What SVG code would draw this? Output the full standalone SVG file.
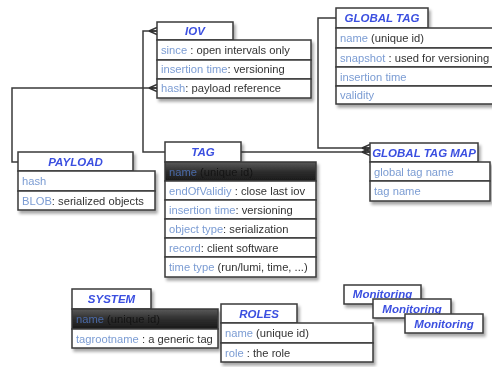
<svg xmlns="http://www.w3.org/2000/svg" width="492" height="367" viewBox="0 0 492 367">
<defs>
<filter id="sh" x="-10%" y="-10%" width="130%" height="150%">
<feDropShadow dx="2" dy="3" stdDeviation="1.6" flood-color="#000" flood-opacity="0.35"/>
</filter>
<linearGradient id="dark" x1="0" y1="0" x2="0" y2="1">
<stop offset="0" stop-color="#5a5a5a"/>
<stop offset="0.5" stop-color="#2e2e2e"/>
<stop offset="1" stop-color="#1a1a1a"/>
</linearGradient>
<marker id="crow" markerUnits="userSpaceOnUse" viewBox="0 0 10 10" refX="10" refY="5" markerWidth="10" markerHeight="10" orient="auto">
<path d="M2,5 L10,1.5 M2,5 L10,5 M2,5 L10,8.5" fill="none" stroke="#333" stroke-width="1.5"/>
<path d="M2,5 L6,3.3 L6,6.7 Z" fill="#333"/>
</marker>
</defs>
<style>
.box{fill:#fff;stroke:#3a3a3a;stroke-width:1.5}
.drk{fill:url(#dark);stroke:#3a3a3a;stroke-width:1.5}
.hd{font-family:"Liberation Sans",Arial,sans-serif;font-size:11.5px;font-weight:bold;font-style:italic;fill:#3b4fe0;text-anchor:middle}
.tx{font-family:"Liberation Sans",Arial,sans-serif;font-size:11.2px;fill:#333}
.lb{fill:#7b9cd3}
.dl{fill:#4a6aa8}
.dv{fill:#151515}
.con{fill:none;stroke:#3a3a3a;stroke-width:1.5}
</style>
<rect width="492" height="367" fill="#fff"/>

<g id="connectors">
<path class="con" d="M165,152 H143 V31 H157" marker-end="url(#crow)"/>
<path class="con" d="M18,162 H12 V88 H157" marker-end="url(#crow)"/>
<path class="con" d="M336,18 H318 V148 H370" marker-end="url(#crow)"/>
<path class="con" d="M241,152 H370" marker-end="url(#crow)"/>
</g>

<g id="iov" filter="url(#sh)">
<rect class="box" x="157" y="22" width="76" height="18"/>
<rect class="box" x="157" y="40" width="154" height="20"/>
<rect class="box" x="157" y="60" width="154" height="19"/>
<rect class="box" x="157" y="79" width="154" height="19"/>
<text class="hd" x="195" y="35">IOV</text>
<text class="tx" x="161" y="54"><tspan class="lb">since</tspan> : open intervals only</text>
<text class="tx" x="161" y="73"><tspan class="lb">insertion time</tspan>: versioning</text>
<text class="tx" x="161" y="92"><tspan class="lb">hash</tspan>: payload reference</text>
</g>

<g id="global-tag" filter="url(#sh)">
<rect class="box" x="336" y="8" width="92" height="20"/>
<rect class="box" x="336" y="28" width="165" height="20"/>
<rect class="box" x="336" y="48" width="165" height="19"/>
<rect class="box" x="336" y="67" width="165" height="19"/>
<rect class="box" x="336" y="86" width="165" height="18"/>
<text class="hd" x="382" y="22">GLOBAL TAG</text>
<text class="tx" x="340" y="42"><tspan class="lb">name</tspan> (unique id)</text>
<text class="tx" x="340" y="62"><tspan class="lb">snapshot</tspan> : used for versioning</text>
<text class="tx lb" x="340" y="81">insertion time</text>
<text class="tx lb" x="340" y="99">validity</text>
</g>

<g id="global-tag-map" filter="url(#sh)">
<rect class="box" x="370" y="143" width="108" height="19"/>
<rect class="box" x="370" y="162" width="120" height="19"/>
<rect class="box" x="370" y="181" width="120" height="20"/>
<text class="hd" x="424" y="157">GLOBAL TAG MAP</text>
<text class="tx lb" x="374" y="176">global tag name</text>
<text class="tx lb" x="374" y="195">tag name</text>
</g>

<g id="payload" filter="url(#sh)">
<rect class="box" x="18" y="152" width="115" height="19"/>
<rect class="box" x="18" y="171" width="137" height="20"/>
<rect class="box" x="18" y="191" width="137" height="19"/>
<text class="hd" x="75.5" y="166">PAYLOAD</text>
<text class="tx lb" x="22" y="185">hash</text>
<text class="tx" x="22" y="205"><tspan class="lb">BLOB</tspan>: serialized objects</text>
</g>

<g id="tag" filter="url(#sh)">
<rect class="box" x="165" y="142" width="76" height="20"/>
<rect class="drk" x="165" y="162" width="151" height="19"/>
<rect class="box" x="165" y="181" width="151" height="19"/>
<rect class="box" x="165" y="200" width="151" height="19"/>
<rect class="box" x="165" y="219" width="151" height="19"/>
<rect class="box" x="165" y="238" width="151" height="19"/>
<rect class="box" x="165" y="257" width="151" height="20"/>
<text class="hd" x="203" y="156">TAG</text>
<text class="tx" x="169" y="176"><tspan class="dl">name</tspan> <tspan class="dv">(unique id)</tspan></text>
<text class="tx" x="169" y="195"><tspan class="lb">endOfValidiy</tspan> : close last iov</text>
<text class="tx" x="169" y="214"><tspan class="lb">insertion time</tspan>: versioning</text>
<text class="tx" x="169" y="233"><tspan class="lb">object type</tspan>: serialization</text>
<text class="tx" x="169" y="252"><tspan class="lb">record</tspan>: client software</text>
<text class="tx" x="169" y="271"><tspan class="lb">time type</tspan> (run/lumi, time, ...)</text>
</g>

<g id="system" filter="url(#sh)">
<rect class="box" x="72" y="289" width="79" height="20"/>
<rect class="drk" x="72" y="309" width="146" height="20"/>
<rect class="box" x="72" y="329" width="146" height="19"/>
<text class="hd" x="111.5" y="303">SYSTEM</text>
<text class="tx" x="76" y="323"><tspan class="dl">name</tspan> <tspan class="dv">(unique id)</tspan></text>
<text class="tx" x="76" y="343"><tspan class="lb">tagrootname</tspan> : a generic tag</text>
</g>

<g id="roles" filter="url(#sh)">
<rect class="box" x="221" y="304" width="76" height="19"/>
<rect class="box" x="221" y="323" width="152" height="20"/>
<rect class="box" x="221" y="343" width="152" height="19"/>
<text class="hd" x="259" y="318">ROLES</text>
<text class="tx" x="225" y="337"><tspan class="lb">name</tspan> (unique id)</text>
<text class="tx" x="225" y="357"><tspan class="lb">role</tspan> : the role</text>
</g>

<g id="monitoring-1" filter="url(#sh)">
<rect class="box" x="344" y="285" width="77" height="19"/>
<text class="hd" x="382.5" y="297.5">Monitoring</text>
</g>
<g id="monitoring-2" filter="url(#sh)">
<rect class="box" x="373" y="299" width="78" height="19"/>
<text class="hd" x="412" y="312.5">Monitoring</text>
</g>
<g id="monitoring-3" filter="url(#sh)">
<rect class="box" x="405" y="314" width="78" height="19"/>
<text class="hd" x="444" y="327.5">Monitoring</text>
</g>
</svg>
